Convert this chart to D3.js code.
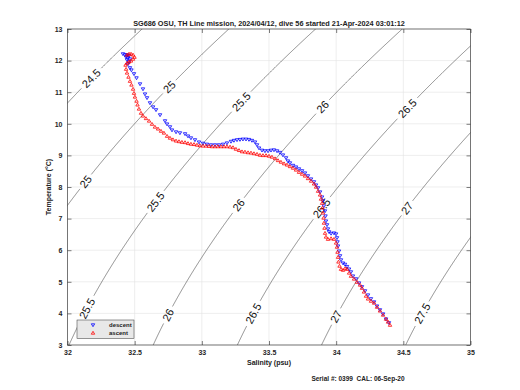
<!DOCTYPE html>
<html>
<head>
<meta charset="utf-8">
<script src="https://cdn.jsdelivr.net/npm/d3@7"></script>
<style>
body { margin: 0; background: #fff; }
text { font-family: "Liberation Sans", Arial, sans-serif; }
</style>
</head>
<body>
<div id="chart"></div>
<script>
// isopycnal levels and where their labels sit (by temperature)
const levels = [24.5, 25, 25.5, 26, 26.5, 27, 27.5]
const labelLevels = [24.5, 25, 25.5, 26, 26.5, 25, 25.5, 26, 26.5, 27, 25.5, 26, 26.5, 27, 27.5]
const labelTemps = [11.44, 11.17, 10.70, 10.54, 10.49, 8.17, 7.53, 7.43, 7.33, 7.33, 4.16, 3.95, 4.00, 3.90, 4.00]

const salTicks = [32, 32.5, 33, 33.5, 34, 34.5, 35]
const tempTicks = [3, 4, 5, 6, 7, 8, 9, 10, 11, 12, 13]

const titleText = 'SG686 OSU, TH Line mission, 2024/04/12, dive 56 started 21-Apr-2024 03:01:12'
const serialText = 'Serial #: 0399  CAL: 06-Sep-20'

// [salinity, temperature]
const descent = [
  [32.413,12.21],[32.428,12.18],[32.443,12.18],[32.458,12.15],[32.436,12.11],[32.450,12.08],
  [32.465,12.05],[32.443,12.02],[32.458,11.96],[32.450,11.89],[32.465,11.77],[32.476,11.70],
  [32.495,11.58],[32.514,11.45],[32.540,11.26],[32.562,11.10],[32.577,10.94],[32.592,10.82],
  [32.614,10.66],[32.637,10.53],[32.659,10.44],[32.689,10.28],[32.726,10.09],[32.741,9.99],
  [32.763,9.90],[32.778,9.80],[32.808,9.74],[32.837,9.71],[32.875,9.68],[32.897,9.61],
  [32.919,9.55],[32.949,9.49],[32.979,9.42],[33.009,9.38],[33.038,9.35],[33.068,9.33],
  [33.098,9.33],[33.128,9.33],[33.158,9.35],[33.187,9.39],[33.217,9.44],[33.239,9.47],
  [33.262,9.49],[33.284,9.50],[33.306,9.51],[33.329,9.51],[33.351,9.50],[33.373,9.47],
  [33.396,9.42],[33.411,9.33],[33.426,9.23],[33.448,9.16],[33.470,9.14],[33.493,9.14],
  [33.515,9.16],[33.537,9.17],[33.560,9.14],[33.582,9.09],[33.604,9.01],[33.627,8.92],
  [33.641,8.82],[33.656,8.76],[33.679,8.68],[33.701,8.63],[33.723,8.57],[33.746,8.51],
  [33.768,8.44],[33.790,8.35],[33.813,8.25],[33.835,8.16],[33.850,8.06],[33.865,7.97],
  [33.880,7.84],[33.895,7.68],[33.902,7.56],[33.909,7.40],[33.917,7.24],[33.921,7.08],
  [33.924,6.92],[33.932,6.80],[33.939,6.67],[33.947,6.58],[33.962,6.53],[33.984,6.54],
  [33.999,6.51],[34.006,6.39],[34.010,6.26],[34.014,6.13],[34.021,5.97],[34.029,5.82],
  [34.036,5.69],[34.051,5.59],[34.066,5.55],[34.081,5.48],[34.096,5.40],[34.110,5.31],
  [34.125,5.18],[34.148,5.09],[34.170,4.96],[34.192,4.84],[34.215,4.71],[34.237,4.58],
  [34.259,4.46],[34.282,4.36],[34.304,4.23],[34.326,4.11],[34.349,3.98],[34.371,3.82],
  [34.393,3.70]
]

const ascent = [
  [34.401,3.63],[34.386,3.73],[34.371,3.82],[34.349,3.95],[34.326,4.08],[34.304,4.20],
  [34.282,4.33],[34.259,4.39],[34.237,4.46],[34.222,4.55],[34.207,4.68],[34.192,4.80],
  [34.178,4.90],[34.155,4.99],[34.133,5.09],[34.110,5.18],[34.096,5.28],[34.081,5.40],
  [34.066,5.42],[34.051,5.37],[34.036,5.40],[34.025,5.50],[34.017,5.63],[34.014,5.78],
  [34.010,5.94],[34.006,6.10],[33.999,6.23],[33.984,6.35],[33.962,6.37],[33.939,6.35],
  [33.924,6.42],[33.917,6.54],[33.913,6.70],[33.909,6.86],[33.906,7.02],[33.902,7.18],
  [33.898,7.34],[33.895,7.49],[33.887,7.62],[33.880,7.75],[33.865,7.87],[33.850,8.00],
  [33.835,8.10],[33.813,8.19],[33.790,8.27],[33.768,8.35],[33.746,8.41],[33.723,8.47],
  [33.701,8.54],[33.679,8.60],[33.656,8.65],[33.634,8.70],[33.612,8.74],[33.589,8.79],
  [33.567,8.84],[33.545,8.90],[33.522,8.95],[33.500,8.98],[33.478,9.00],[33.455,9.00],
  [33.433,9.01],[33.411,9.04],[33.388,9.06],[33.366,9.08],[33.344,9.09],[33.321,9.11],
  [33.299,9.12],[33.277,9.16],[33.254,9.20],[33.232,9.25],[33.210,9.27],[33.187,9.28],
  [33.165,9.28],[33.143,9.28],[33.120,9.28],[33.098,9.28],[33.076,9.28],[33.053,9.29],
  [33.031,9.30],[33.009,9.30],[32.986,9.31],[32.964,9.33],[32.942,9.35],[32.919,9.36],
  [32.897,9.38],[32.875,9.41],[32.852,9.42],[32.830,9.44],[32.808,9.46],[32.785,9.50],
  [32.763,9.55],[32.741,9.61],[32.718,9.71],[32.696,9.77],[32.674,9.84],[32.651,9.90],
  [32.629,9.99],[32.607,10.09],[32.584,10.17],[32.562,10.25],[32.547,10.34],[32.532,10.47],
  [32.521,10.60],[32.514,10.72],[32.502,10.85],[32.495,10.97],[32.488,11.10],[32.476,11.23],
  [32.465,11.35],[32.454,11.48],[32.443,11.61],[32.436,11.73],[32.432,11.86],[32.443,11.92],
  [32.458,11.96],[32.473,11.99],[32.488,12.05],[32.499,12.11],[32.488,12.18],[32.473,12.21],
  [32.458,12.21],[32.443,12.18]
]

const width = 520, height = 390
const plotLeft = 67.5, plotRight = 470.5, plotTop = 29, plotBottom = 345

const svg = d3.select('#chart').append('svg')
  .attr('width', width)
  .attr('height', height)

const x = d3.scaleLinear().domain([32, 35]).range([plotLeft, plotRight])
const y = d3.scaleLinear().domain([3, 13]).range([plotBottom, plotTop])

// sea water density anomaly at the surface (EOS-80)
let sigma0 = (S, T) => {
  const rw = 999.842594 + 6.793952e-2 * T - 9.095290e-3 * T * T + 1.001685e-4 * T ** 3
    - 1.120083e-6 * T ** 4 + 6.536332e-9 * T ** 5
  const a = 8.24493e-1 - 4.0899e-3 * T + 7.6438e-5 * T * T - 8.2467e-7 * T ** 3 + 5.3875e-9 * T ** 4
  const b = -5.72466e-3 + 1.0227e-4 * T - 1.6546e-6 * T * T
  return rw + a * S + b * S ** 1.5 + 4.8314e-4 * S * S - 1000
}

let salAt = (level, T) => {
  let lo = 28, hi = 38
  for (let i = 0; i < 40; i++) {
    const mid = (lo + hi) / 2
    if (sigma0(mid, T) < level) lo = mid
    else hi = mid
  }
  return (lo + hi) / 2
}

svg.append('clipPath').attr('id', 'plotclip')
  .append('rect')
  .attr('x', plotLeft).attr('y', plotTop)
  .attr('width', plotRight - plotLeft).attr('height', plotBottom - plotTop)

// grid
svg.append('g').selectAll('line')
  .data(salTicks)
  .enter().append('line')
  .attr('x1', d => x(d)).attr('x2', d => x(d))
  .attr('y1', plotTop).attr('y2', plotBottom)
  .attr('stroke', '#e3e3e3').attr('stroke-width', 0.6)

svg.append('g').selectAll('line')
  .data(tempTicks)
  .enter().append('line')
  .attr('x1', plotLeft).attr('x2', plotRight)
  .attr('y1', d => y(d)).attr('y2', d => y(d))
  .attr('stroke', '#e3e3e3').attr('stroke-width', 0.6)

// contour labels first so the lines can leave a gap for them
const contourG = svg.append('g').attr('clip-path', 'url(#plotclip)')
const labels = labelLevels.map((lev, i) => {
  const T = labelTemps[i]
  const px = x(salAt(lev, T)), py = y(T)
  const ax = x(salAt(lev, T - 0.1)), ay = y(T - 0.1)
  const bx = x(salAt(lev, T + 0.1)), by = y(T + 0.1)
  const ang = Math.atan2(by - ay, bx - ax) * 180 / Math.PI
  const t = contourG.append('text')
    .attr('transform', `translate(${px},${py}) rotate(${ang})`)
    .attr('text-anchor', 'middle')
    .attr('dominant-baseline', 'central')
    .attr('font-size', 11)
    .attr('fill', '#111')
    .text(lev)
  return { lev: lev, px: px, py: py, gap: t.node().getComputedTextLength() / 2 + 3 }
})

const tSteps = d3.range(2.6, 13.4, 0.02)
levels.forEach(lev => {
  const pts = tSteps.map(T => [salAt(lev, T), T])
  const mine = labels.filter(l => l.lev === lev)
  const line = d3.line()
    .x(d => x(d[0]))
    .y(d => y(d[1]))
    .defined(d => mine.every(l => Math.hypot(x(d[0]) - l.px, y(d[1]) - l.py) > l.gap))
  contourG.append('path')
    .datum(pts)
    .attr('d', line)
    .attr('fill', 'none')
    .attr('stroke', '#444')
    .attr('stroke-width', 0.6)
})

// markers
const downTri = 'M-1.7,-1.2L1.7,-1.2L0,1.7Z'
const upTri = 'M-1.7,1.2L1.7,1.2L0,-1.7Z'

svg.append('g').attr('clip-path', 'url(#plotclip)')
  .selectAll('path')
  .data(descent)
  .enter().append('path')
  .attr('d', downTri)
  .attr('transform', d => `translate(${x(d[0])},${y(d[1])})`)
  .attr('fill', 'none')
  .attr('stroke', '#0000ff')
  .attr('stroke-width', 0.8)

svg.append('g').attr('clip-path', 'url(#plotclip)')
  .selectAll('path')
  .data(ascent)
  .enter().append('path')
  .attr('d', upTri)
  .attr('transform', d => `translate(${x(d[0])},${y(d[1])})`)
  .attr('fill', 'none')
  .attr('stroke', '#ff0000')
  .attr('stroke-width', 0.8)

// axes, ticks pointing inward
let styleAxis = g => {
  g.select('.domain').remove()
  g.selectAll('.tick line').attr('stroke', '#262626').attr('stroke-width', 0.6)
  g.selectAll('.tick text').attr('font-size', 7).attr('font-weight', 'bold').attr('fill', '#262626')
    .attr('font-family', '"Liberation Sans", Arial, sans-serif')
}

svg.append('g')
  .attr('transform', `translate(0,${plotBottom})`)
  .call(d3.axisBottom(x).tickValues(salTicks).tickFormat(d3.format('')).tickSizeInner(-4).tickSizeOuter(0).tickPadding(5))
  .call(styleAxis)

svg.append('g')
  .attr('transform', `translate(0,${plotTop})`)
  .call(d3.axisTop(x).tickValues(salTicks).tickSizeInner(-4).tickSizeOuter(0).tickFormat(''))
  .call(styleAxis)

svg.append('g')
  .attr('transform', `translate(${plotLeft},0)`)
  .call(d3.axisLeft(y).tickValues(tempTicks).tickFormat(d3.format('')).tickSizeInner(-4).tickSizeOuter(0).tickPadding(5))
  .call(styleAxis)

svg.append('g')
  .attr('transform', `translate(${plotRight},0)`)
  .call(d3.axisRight(y).tickValues(tempTicks).tickSizeInner(-4).tickSizeOuter(0).tickFormat(''))
  .call(styleAxis)

svg.append('rect')
  .attr('x', plotLeft).attr('y', plotTop)
  .attr('width', plotRight - plotLeft).attr('height', plotBottom - plotTop)
  .attr('fill', 'none')
  .attr('stroke', '#262626')
  .attr('stroke-width', 0.6)

// legend
const leg = svg.append('g')
leg.append('rect')
  .attr('x', 77).attr('y', 320).attr('width', 57).attr('height', 18.5)
  .attr('fill', '#e8e8e8').attr('stroke', '#333').attr('stroke-width', 0.5)
leg.append('path').attr('d', downTri).attr('transform', 'translate(93,325)')
  .attr('fill', 'none').attr('stroke', '#0000ff').attr('stroke-width', 0.8)
leg.append('path').attr('d', upTri).attr('transform', 'translate(93,333)')
  .attr('fill', 'none').attr('stroke', '#ff0000').attr('stroke-width', 0.8)
leg.append('text').attr('x', 109).attr('y', 327.2).attr('font-size', 6).attr('font-weight', 'bold')
  .attr('fill', '#222').text('descent')
leg.append('text').attr('x', 109).attr('y', 335.2).attr('font-size', 6).attr('font-weight', 'bold')
  .attr('fill', '#222').text('ascent')

// text
svg.append('text')
  .attr('x', (plotLeft + plotRight) / 2).attr('y', 26)
  .attr('text-anchor', 'middle')
  .attr('font-size', 7.3).attr('font-weight', 'bold').attr('fill', '#222')
  .text(titleText)

svg.append('text')
  .attr('x', (plotLeft + plotRight) / 2).attr('y', 365)
  .attr('text-anchor', 'middle')
  .attr('font-size', 7).attr('font-weight', 'bold').attr('fill', '#222')
  .text('Salinity (psu)')

svg.append('text')
  .attr('transform', `translate(51,${(plotTop + plotBottom) / 2}) rotate(-90)`)
  .attr('text-anchor', 'middle')
  .attr('font-size', 7).attr('font-weight', 'bold').attr('fill', '#222')
  .text('Temperature (°C)')

svg.append('text')
  .attr('x', 358).attr('y', 380.5)
  .attr('text-anchor', 'middle')
  .attr('font-size', 6.5).attr('font-weight', 'bold').attr('fill', '#222')
  .style('white-space', 'pre')
  .text(serialText)
</script>
</body>
</html>
